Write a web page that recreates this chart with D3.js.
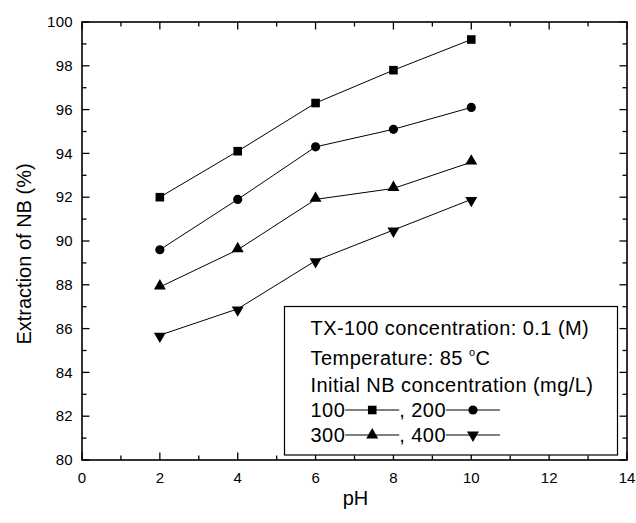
<!DOCTYPE html>
<html>
<head>
<meta charset="utf-8">
<script src="https://cdn.jsdelivr.net/npm/d3@7"></script>
<style>
  body { margin: 0; background: #fff; }
  text { font-family: "Liberation Sans", Arial, sans-serif; fill: #000; }
</style>
</head>
<body>
<div id="chart"></div>
<script>
// values
const pH = [2, 4, 6, 8, 10];
const nb100 = [92.0, 94.1, 96.3, 97.8, 99.2];
const nb200 = [89.6, 91.9, 94.3, 95.1, 96.1];
const nb300 = [87.9, 89.6, 91.9, 92.4, 93.6];
const nb400 = [85.7, 86.9, 89.1, 90.5, 91.9];
const seriesNames = ["100", "200", "300", "400"];
const xTicks = [0, 2, 4, 6, 8, 10, 12, 14];
const yTicks = [80, 82, 84, 86, 88, 90, 92, 94, 96, 98, 100];
const legendLines = ["TX-100 concentration: 0.1 (M)", "Temperature: 85 ", "Initial NB concentration (mg/L)"];

const margin = {top: 22, right: 9, bottom: 63, left: 82},
  width = 636 - margin.left - margin.right,
  height = 523 - margin.top - margin.bottom;

const svg = d3.select("#chart")
  .append("svg")
  .attr("width", 636)
  .attr("height", 523);

const g = svg.append("g")
  .attr("transform", `translate(${margin.left},${margin.top})`);

const x = d3.scaleLinear().domain([0, 14]).range([0, width]);
const y = d3.scaleLinear().domain([80, 100]).range([height, 0]);

const minorX = d3.range(1, 14, 2);
const minorY = d3.range(81, 100, 2);
const major = 7.5, minor = 4.5;

// frame
g.append("rect")
  .attr("width", width).attr("height", height)
  .attr("fill", "none").attr("stroke", "#000").attr("stroke-width", 1.6);

// inward ticks, all four sides
const ticks = g.append("g").attr("stroke", "#000").attr("stroke-width", 1.3);
[[xTicks, major], [minorX, minor]].forEach(([vals, len]) => {
  ticks.selectAll(null).data(vals).join("line")
    .attr("x1", d => x(d)).attr("x2", d => x(d))
    .attr("y1", height).attr("y2", height - len);
  ticks.selectAll(null).data(vals).join("line")
    .attr("x1", d => x(d)).attr("x2", d => x(d))
    .attr("y1", 0).attr("y2", len);
});
[[yTicks, major], [minorY, minor]].forEach(([vals, len]) => {
  ticks.selectAll(null).data(vals).join("line")
    .attr("y1", d => y(d)).attr("y2", d => y(d))
    .attr("x1", 0).attr("x2", len);
  ticks.selectAll(null).data(vals).join("line")
    .attr("y1", d => y(d)).attr("y2", d => y(d))
    .attr("x1", width).attr("x2", width - len);
});

// tick labels
g.selectAll(".xl").data(xTicks).join("text")
  .attr("x", d => x(d)).attr("y", height + 23)
  .attr("text-anchor", "middle").style("font-size", "15px")
  .text(d => d);
g.selectAll(".yl").data(yTicks).join("text")
  .attr("x", -9).attr("y", d => y(d)).attr("dy", "0.35em")
  .attr("text-anchor", "end").style("font-size", "15px")
  .style("letter-spacing", "0.3px")
  .text(d => d);

// axis titles
g.append("text")
  .attr("x", width / 2 + 1).attr("y", height + 45)
  .attr("text-anchor", "middle").style("font-size", "20px")
  .text("pH");
g.append("text")
  .attr("transform", `translate(${31 - margin.left},${254 - margin.top}) rotate(-90)`)
  .attr("text-anchor", "middle").style("font-size", "20px")
  .text("Extraction of NB (%)");

// series
const series = [nb100, nb200, nb300, nb400];
const symbols = [
  d3.symbol().type(d3.symbolSquare).size(74),
  d3.symbol().type(d3.symbolCircle).size(66),
  d3.symbol().type(d3.symbolTriangle).size(62),
  d3.symbol().type(d3.symbolTriangle).size(62)
];
const flip = [0, 0, 0, 180];
const line = d3.line().x((d, i) => x(pH[i])).y(d => y(d));

series.forEach((vals, k) => {
  g.append("path").datum(vals)
    .attr("d", line).attr("fill", "none")
    .attr("stroke", "#000").attr("stroke-width", 1);
  g.selectAll(null).data(vals).join("path")
    .attr("d", symbols[k])
    .attr("transform", (d, i) => `translate(${x(pH[i])},${y(d) + (k >= 2 ? (k == 2 ? -1 : 1) : 0)}) rotate(${flip[k]})`)
    .attr("fill", "#000");
});

// legend
const leg = svg.append("g");
leg.append("rect")
  .attr("x", 284.5).attr("y", 306.5).attr("width", 333).attr("height", 148.5)
  .attr("fill", "#fff").attr("stroke", "#000").attr("stroke-width", 1.2);

const lx = 310.5;
const rowBase = [335, 365, 392, 417, 442];
leg.selectAll(".lt").data(legendLines).join("text")
  .attr("x", lx).attr("y", (d, i) => rowBase[i])
  .style("font-size", "20px").style("letter-spacing", "0.45px")
  .text(d => d);
const temp = leg.selectAll("text").filter((d, i) => i == 1);
temp.append("tspan").attr("dy", -9).style("font-size", "11px").text("o");
temp.append("tspan").attr("dy", 9).text("C");

const segLen = 54;
[[0, 1], [2, 3]].forEach((pair, r) => {
  const yb = rowBase[3 + r];
  let cx = lx;
  pair.forEach((k, j) => {
    const t = leg.append("text").attr("x", cx).attr("y", yb)
      .style("font-size", "20px").style("letter-spacing", "0.45px")
      .text((j ? ", " : "") + seriesNames[k]);
    cx += t.node().getComputedTextLength();
    leg.append("line")
      .attr("x1", cx).attr("x2", cx + segLen)
      .attr("y1", yb - 7).attr("y2", yb - 7)
      .attr("stroke", "#000").attr("stroke-width", 1);
    leg.append("path").attr("d", symbols[k])
      .attr("transform", `translate(${cx + segLen / 2},${yb - 7}) rotate(${flip[k]})`)
      .attr("fill", "#000");
    cx += segLen;
  });
});
</script>
</body>
</html>
